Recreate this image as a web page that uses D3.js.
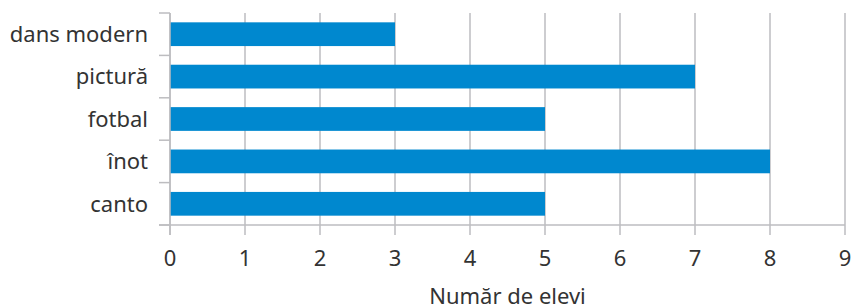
<!DOCTYPE html>
<html>
<head>
<meta charset="utf-8">
<script src="https://cdn.jsdelivr.net/npm/d3@7"></script>
<style>
  body { margin: 0; background: #fff; }
  text { font-family: "Noto Sans", "Open Sans", sans-serif; fill: #333; }
</style>
</head>
<body>
<div id="chart"></div>
<script>
// Data
var categories = ['dans modern', 'pictură', 'fotbal', 'înot', 'canto'];
var values = [3, 7, 5, 8, 5];
var xTicks = [0, 1, 2, 3, 4, 5, 6, 7, 8, 9];
var xTitle = 'Număr de elevi';

var width = 855;
var height = 305;
var margin = { top: 13, right: 10, bottom: 80, left: 170 };
var innerWidth = 845 - margin.left;
var innerHeight = 225 - margin.top;
var gridColor = '#bdbdc0';
var barColor = '#0088cf';
var fontSize = 22;

var svg = d3.select('#chart')
  .append('svg')
  .attr('width', width)
  .attr('height', height);

var g = svg.append('g')
  .attr('transform', 'translate(' + margin.left + ',' + margin.top + ')');

var x = d3.scaleLinear()
  .domain([0, 9])
  .range([0, innerWidth]);

var y = d3.scaleBand()
  .domain(categories)
  .range([0, innerHeight])
  .paddingInner(0.44)
  .paddingOuter(0.22);

// Vertical grid lines
g.selectAll('.grid')
  .data(xTicks)
  .enter()
  .append('line')
  .attr('class', 'grid')
  .attr('x1', function (d) { return x(d); })
  .attr('x2', function (d) { return x(d); })
  .attr('y1', 0)
  .attr('y2', innerHeight + 10)
  .attr('stroke', gridColor)
  .attr('stroke-width', 1.5);

// Category separators on the y axis
var bounds = d3.range(categories.length + 1).map(function (i) {
  return innerHeight / categories.length * i;
});
g.selectAll('.ytick')
  .data(bounds)
  .enter()
  .append('line')
  .attr('class', 'ytick')
  .attr('x1', -11)
  .attr('x2', 0)
  .attr('y1', function (d) { return d; })
  .attr('y2', function (d) { return d; })
  .attr('stroke', gridColor)
  .attr('stroke-width', 1.5);

// Bars
g.selectAll('.bar')
  .data(categories)
  .enter()
  .append('rect')
  .attr('class', 'bar')
  .attr('x', x(0))
  .attr('y', function (d) { return y(d); })
  .attr('width', function (d, i) { return x(values[i]) - x(0); })
  .attr('height', y.bandwidth())
  .attr('fill', barColor);

// Axis lines
g.append('line')
  .attr('x1', -11)
  .attr('x2', innerWidth)
  .attr('y1', innerHeight)
  .attr('y2', innerHeight)
  .attr('stroke', gridColor)
  .attr('stroke-width', 1.5);
g.append('line')
  .attr('x1', 0)
  .attr('x2', 0)
  .attr('y1', 0)
  .attr('y2', innerHeight + 10)
  .attr('stroke', gridColor)
  .attr('stroke-width', 1.5);

// Category labels
g.selectAll('.label')
  .data(categories)
  .enter()
  .append('text')
  .attr('class', 'label')
  .attr('x', -22)
  .attr('y', function (d) { return y(d) + y.bandwidth() / 2; })
  .attr('dy', '0.35em')
  .attr('text-anchor', 'end')
  .style('font-size', fontSize + 'px')
  .text(function (d) { return d; });

// Tick labels
g.selectAll('.xlabel')
  .data(xTicks)
  .enter()
  .append('text')
  .attr('class', 'xlabel')
  .attr('x', function (d) { return x(d); })
  .attr('y', innerHeight + 33)
  .attr('dy', '0.35em')
  .attr('text-anchor', 'middle')
  .style('font-size', fontSize + 'px')
  .text(function (d) { return d; });

// Axis title
g.append('text')
  .attr('x', innerWidth / 2)
  .attr('y', innerHeight + 71)
  .attr('dy', '0.35em')
  .attr('text-anchor', 'middle')
  .style('font-size', fontSize + 'px')
  .text(xTitle);
</script>
</body>
</html>
